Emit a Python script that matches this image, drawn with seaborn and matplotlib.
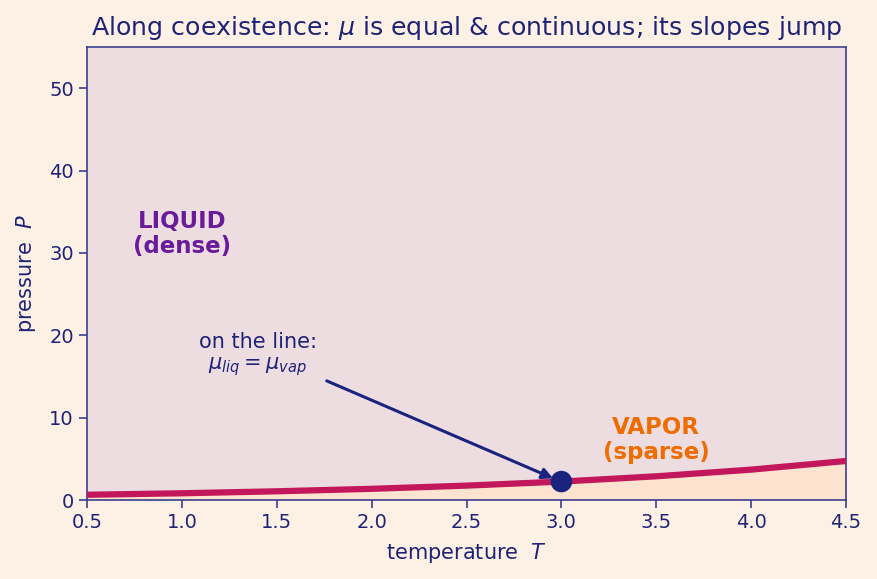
import numpy as np
import pandas as pd
import matplotlib
matplotlib.use("Agg")
import matplotlib.pyplot as plt
import seaborn as sns

# coexistence curve
T_vals = [0.5, 1.0, 1.5, 2.0, 2.5, 3.0, 3.5, 4.0, 4.5]
P_vals = [0.64, 0.82, 1.06, 1.36, 1.75, 2.24, 2.88, 3.69, 4.74]
point_T = [3.0]
point_P = [2.24]

sns.set_theme(style="white")
plt.rcParams['font.family'] = ['DejaVu Sans']
navy = "#1f2377"
spine_c = "#3b3f8c"
fig = plt.figure(figsize=(8.77, 5.79), dpi=100, facecolor="#fdf1e6")
ax = fig.add_axes([0.0992, 0.1364, 0.8655, 0.7824])
ax.set_facecolor("#fdf1e6")

df = pd.DataFrame({"T": T_vals, "P": P_vals})
ax.fill_between(df["T"], df["P"], 55, color="#eedde0", zorder=0, lw=0)
ax.fill_between(df["T"], 0, df["P"], color="#fde3d0", zorder=0, lw=0)
sns.lineplot(data=df, x="T", y="P", ax=ax, color="#c2185b", lw=4.5, zorder=3)
sns.scatterplot(x=point_T, y=point_P, ax=ax, color="#1a237e", s=240, zorder=5, edgecolor="none")

ax.annotate("", xy=(2.97, 2.5), xytext=(1.75, 14.6),
            arrowprops=dict(arrowstyle="-|>", color="#1a237e", lw=2.2, mutation_scale=16), zorder=4)
ax.text(1.4, 19.2, "on the line:", ha="center", va="center", color=navy, fontsize=15)
ax.text(1.4, 16.2, r"$\mu_{liq} = \mu_{vap}$", ha="center", va="center", color=navy, fontsize=15)
ax.text(1.0, 32.3, "LIQUID\n(dense)", ha="center", va="center", color="#6a1b9a",
        fontsize=16.5, fontweight="bold", linespacing=1.1)
ax.text(3.5, 7.3, "VAPOR\n(sparse)", ha="center", va="center", color="#ef6c00",
        fontsize=16.5, fontweight="bold", linespacing=1.1)

ax.set_xlim(0.5, 4.5)
ax.set_ylim(0, 55)
ax.set_xticks([0.5, 1.0, 1.5, 2.0, 2.5, 3.0, 3.5, 4.0, 4.5])
ax.set_yticks([0, 10, 20, 30, 40, 50])
ax.set_xlabel(r"temperature  $T$", color=navy, fontsize=15, labelpad=6)
ax.set_ylabel(r"pressure  $P$", color=navy, fontsize=15, labelpad=8)
ax.set_title(r"Along coexistence: $\mu$ is equal & continuous; its slopes jump",
             color=navy, fontsize=18.2, pad=9)
ax.tick_params(colors=navy, labelsize=14, length=6, width=1.2, direction="out",
               bottom=True, left=True)
for lab in ax.get_xticklabels() + ax.get_yticklabels():
    lab.set_color(navy)
ax.tick_params(axis="both", color=spine_c)
for s in ax.spines.values():
    s.set_color(spine_c)
    s.set_linewidth(1.2)

fig.savefig("out.png", dpi=100, facecolor=fig.get_facecolor())
